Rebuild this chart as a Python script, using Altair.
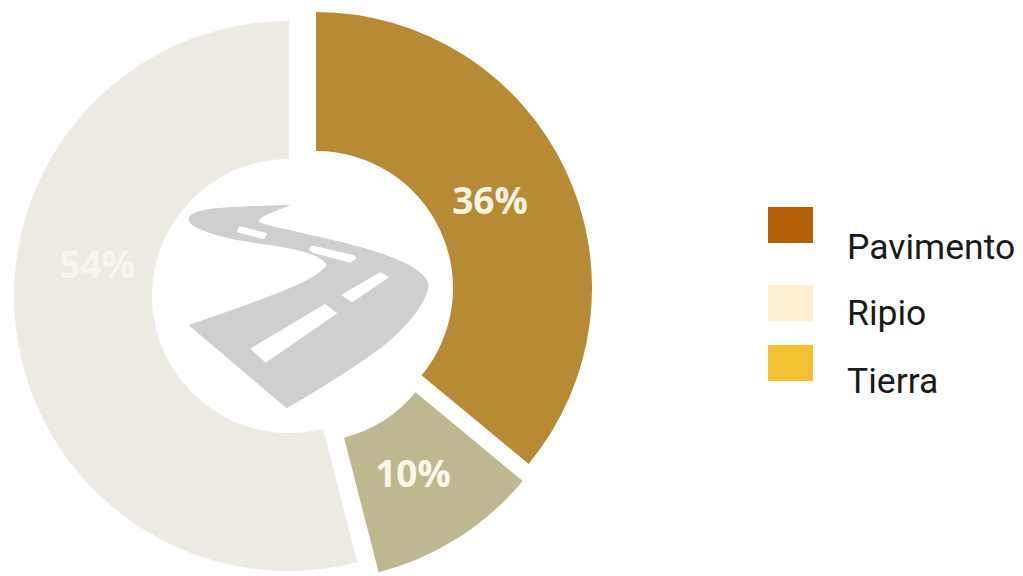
import re
import altair as alt
import pandas as pd

# Data
categories = ["Pavimento", "Tierra", "Ripio"]
shares = [36, 10, 54]
labels = ["36%", "10%", "54%"]
legend_names = ["Pavimento", "Ripio", "Tierra"]

# Styling / layout (page pixels; the page margin is 8px)
M = 8
slice_colors = ["#B88A33", "#BFB790", "#ECEAE2"]
slice_centers = [(316, 288), (310, 305), (289, 296)]
slice_radii = [276, 276, 275]
label_pos = [(490, 203), (413, 476), (97, 267)]
label_colors = ["#FBF5E6", "#FBF7E8", "#F8F6F0"]
legend_colors = ["#B35F06", "#FEF0CE", "#F2C230"]
legend_box_y = [225, 303, 363]
legend_text_y = [259, 325, 393]
R_IN = 137

df = pd.DataFrame({"cat": categories, "share": shares, "label": labels})
df["end"] = df["share"].cumsum()
df["start"] = df["end"] - df["share"]
theta_scale = alt.Scale(domain=[0, 100], range=[0, 6.283185])

layers = []
for i, c in enumerate(categories):
    cx, cy = slice_centers[i]
    layers.append(
        alt.Chart(df[df.cat == c]).mark_arc(
            innerRadius=R_IN, outerRadius=slice_radii[i], fill=slice_colors[i]
        ).encode(
            theta=alt.Theta("start:Q", scale=theta_scale),
            theta2=alt.Theta2("end:Q"),
            x=alt.value(cx - M), y=alt.value(cy - M),
        )
    )

# Road icon, drawn as custom symbols (path in zoom-crop coordinates, normalised)
OX, OY, SPAN = 415.0, 350.0, 400.0
def norm(path):
    idx = [0]
    def rep(m):
        v = float(m.group(0))
        r = (v - (OX if idx[0] % 2 == 0 else OY)) / SPAN
        idx[0] += 1
        return f"{r:.4f}"
    return re.sub(r"-?\d+(\.\d+)?", rep, path)

road = ("M362 44 C280 48 150 50 100 60 C65 68 50 80 58 95 C70 115 130 135 200 150 "
        "C290 165 360 172 410 188 C440 198 465 212 470 226 C450 250 420 268 380 285 "
        "C290 325 170 365 55 405 L350 655 C430 610 560 530 650 460 "
        "C710 410 770 340 776 285 C770 250 720 222 650 196 C570 165 440 140 380 125 "
        "C330 112 275 105 265 92 C280 72 330 60 362 44 Z")
dashes = [
    "M208 108 L292 130 L282 148 L200 126 Z",
    "M425 166 L552 196 L560 205 L540 218 L428 188 L416 178 Z",
    "M632 246 L657 262 L547 337 L513 315 Z",
    "M465 342 L502 370 L287 518 L241 476 Z",
]
icon_size = (2 * SPAN / 3) ** 2
icon_x, icon_y = 170 + OX / 3 - M, 190 + OY / 3 - M
icon_data = pd.DataFrame({"a": [0]})
for shape, color in [(road, "#CFCFCF")] + [(d, "#FFFFFF") for d in dashes]:
    layers.append(
        alt.Chart(icon_data).mark_point(
            shape=norm(shape), size=icon_size, filled=True, opacity=1,
            strokeWidth=0, fill=color,
        ).encode(x=alt.value(icon_x), y=alt.value(icon_y))
    )

# Slice labels
for i, c in enumerate(categories):
    lx, ly = label_pos[i]
    layers.append(
        alt.Chart(df[df.cat == c]).mark_text(
            font="Open Sans", fontWeight="bold", fontSize=37, color=label_colors[i],
            align="center", baseline="middle",
        ).encode(text="label:N", x=alt.value(lx - M), y=alt.value(ly - M))
    )

# Legend
legend_df = pd.DataFrame({"name": legend_names})
box = "M-1 -0.8 H1 V0.8 H-1 Z"
for i, n in enumerate(legend_names):
    sub = legend_df[legend_df.name == n]
    layers.append(
        alt.Chart(sub).mark_point(
            shape=box, size=45 ** 2, filled=True, opacity=1, strokeWidth=0,
            fill=legend_colors[i],
        ).encode(x=alt.value(790.5 - M), y=alt.value(legend_box_y[i] - M))
    )
    layers.append(
        alt.Chart(sub).mark_text(
            font="Roboto", fontSize=35.5, color="#1A1A1A", align="left",
            baseline="alphabetic",
        ).encode(text="name:N", x=alt.value(847 - M), y=alt.value(legend_text_y[i] - M))
    )

chart = alt.layer(*layers).properties(
    width=1007, height=566, padding=0, autosize=alt.AutoSizeParams(type="none"),
).configure_view(stroke=None)

chart.save("out.html", embed_options={"renderer": "svg", "actions": False})
